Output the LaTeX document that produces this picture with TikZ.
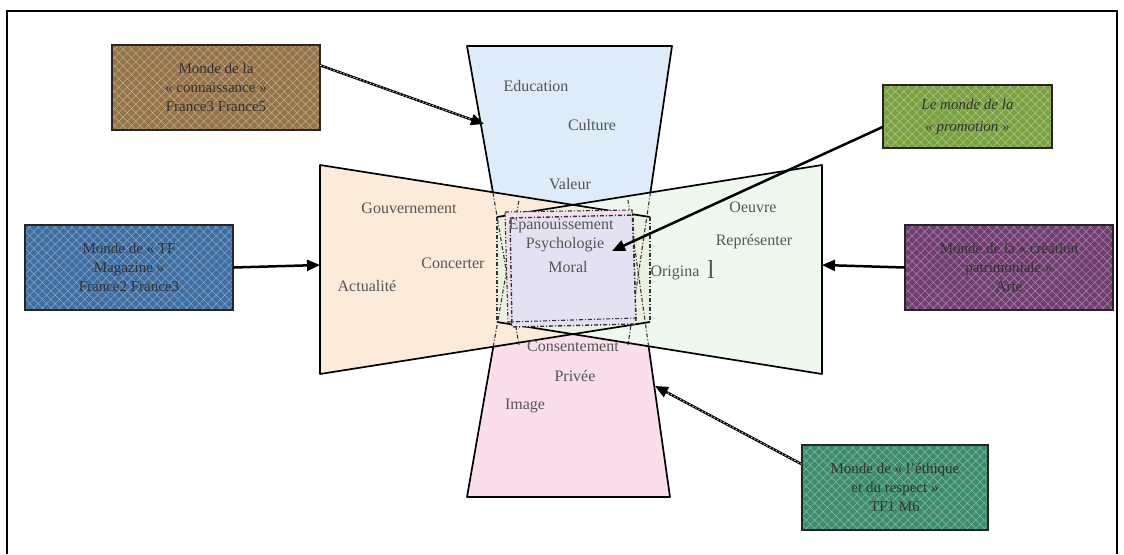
\documentclass[tikz,border=0pt]{standalone}
\usepackage{fontspec}
\setmainfont{Liberation Serif}
\usetikzlibrary{arrows.meta,patterns.meta}
\definecolor{cT}{RGB}{222,236,250}
\definecolor{cB}{RGB}{250,222,236}
\definecolor{cL}{RGB}{252,228,206}
\definecolor{cR}{RGB}{226,244,228}
\definecolor{cC}{RGB}{228,226,242}
\definecolor{bBrown}{RGB}{150,116,72}
\definecolor{bGreen}{RGB}{122,160,64}
\definecolor{bBlue}{RGB}{62,110,162}
\definecolor{bPurple}{RGB}{112,62,112}
\definecolor{bTeal}{RGB}{60,140,110}
\definecolor{lbl}{RGB}{85,85,85}
\tikzset{
  edge/.style={draw=black, line width=1.7pt, line join=round},
  inner/.style={draw=black!80, line width=1.1pt, dash pattern=on 4pt off 2pt on 1pt off 2pt},
  lab/.style={text=lbl, font=\fontsize{16}{18}\selectfont, inner sep=0pt},
  boxbase/.style={inner sep=2pt, align=center,
    font=\fontsize{15}{19}\selectfont, text=black!80,
    postaction={pattern={Hatch[angle=45,distance=6pt,line width=0.5pt]}, pattern color=white, opacity=0.4},
    postaction={draw=black!85, line width=1.5pt}},
  arr/.style={draw=black, line width=2.5pt, -{Triangle[length=13pt,width=11pt]}},
  hatchover/.style={draw=white!70!gray, line width=0.8pt, dash pattern=on 1.5pt off 2pt, shorten >=13pt},
}
\begin{document}
\begin{tikzpicture}[x=1pt,y=-1pt]
\useasboundingbox (0,0) rectangle (1124,554);
% frame
\draw[line width=1.5pt] (7,554) -- (7,11) -- (1117,11) -- (1117,554);

% top trapezoid
\fill[cT] (467,46) -- (672,46) -- (650.4,192.5) -- (572.8,204.8) -- (493,192.8) -- cycle;
\draw[edge] (493,192.8) -- (467,46) -- (672,46) -- (650.4,192.5);
% bottom trapezoid
\fill[cB] (467,497) -- (670,497) -- (648.6,346.3) -- (572.8,334.2) -- (493.3,346.6) -- cycle;
\draw[edge] (493.3,346.6) -- (467,497) -- (670,497) -- (648.6,346.3);
% left trapezoid
\fill[cL, fill opacity=0.75] (320,165) -- (650,217) -- (650,322) -- (320,374) -- cycle;
% right trapezoid
\fill[cR, fill opacity=0.6] (822,165) -- (497,217) -- (497,322) -- (822,374) -- cycle;
\draw[edge] (650,217) -- (320,165) -- (320,374) -- (650,322);
\draw[edge] (497,217) -- (822,165) -- (822,374) -- (497,322);
\draw[inner] (650,217) -- (650,322);
\draw[inner] (497,217) -- (497,322);
% continuations of top and bottom trapezoid sides
\draw[inner] (493,192.8) -- (519,345);
\draw[inner] (650.4,192.5) -- (628,345);
\draw[inner] (493.3,346.6) -- (519,200);
\draw[inner] (648.6,346.3) -- (628,200);
% centre
\fill[cB!70!cC] (505,212) -- (632,210) -- (636,318) -- (508,322) -- cycle;
\fill[cC] (510,218) -- (633,215) -- (636,324) -- (512,327) -- cycle;
\draw[inner] (505,212) -- (632,210) -- (636,318) -- (508,322) -- cycle;
\draw[inner, line width=1.4pt] (510,218) -- (633,215) -- (636,324) -- (512,327) -- cycle;

% labels
\node[lab] (l1) at (536,86) {Education};
\node[lab] (l2) at (592,125) {Culture};
\node[lab] (l3) at (570,184) {Valeur};
\node[lab] (l4) at (409,208) {Gouvernement};
\node[lab] (l5) at (453,263) {Concerter};
\node[lab] (l6) at (367,286) {Actualité};
\node[lab] (l7) at (753,207) {Oeuvre};
\node[lab] (l8) at (754,242) {Représenter};
\node[lab] (l9) at (675,273) {Origina};
\node[lab, font=\fontsize{26}{28}\selectfont] (l10) at (711,269) {l};
\node[lab] (l11) at (561,226) {Epanouissement};
\node[lab] (l12) at (565,245) {Psychologie};
\node[lab] (l13) at (568,267) {Moral};
\node[lab] (l14) at (573,346) {Consentement};
\node[lab] (l15) at (575,376) {Privée};
\node[lab] (l16) at (525,406) {Image};

% boxes
\node[boxbase, fill=bBrown, minimum width=208pt, minimum height=85pt] (brown) at (216,87.5)
  {Monde de la\\ « connaissance » \\ France3 France5};
\node[boxbase, fill=bGreen, minimum width=169pt, minimum height=63pt, font=\itshape\fontsize{15}{22}\selectfont] (green) at (967.5,116.5)
  {Le monde de la\\ « promotion »};
\node[boxbase, fill=bBlue, minimum width=208pt, minimum height=85pt] (blue) at (129,267.5)
  {Monde de « TF\\ Magazine »\\ France2 France3};
\node[boxbase, fill=bPurple, minimum width=208pt, minimum height=85pt] (purple) at (1009,267.5)
  {Monde de la « création\\ patrimoniale »\\ Arte};
\node[boxbase, fill=bTeal, minimum width=186pt, minimum height=85pt] (teal) at (895,487.5)
  {Monde de « l'éthique\\ et du respect »\\ TF1 M6};

% arrow targets
\coordinate (tT) at (484,124);
\coordinate (tC) at (612,251);
\coordinate (tL) at (320,265);
\coordinate (tR) at (822,265);
\coordinate (tB) at (655,386);

% connectors
\draw[arr] (brown.12) -- (tT);
\draw[hatchover] (brown.12) -- (tT);
\draw[arr] (green.187) -- (tC);
\draw[arr] (blue.east) -- (tL);
\draw[arr] (purple.west) -- (tR);
\draw[arr] (teal.166) -- (tB);
\draw[hatchover] (teal.166) -- (tB);
\end{tikzpicture}
\end{document}
